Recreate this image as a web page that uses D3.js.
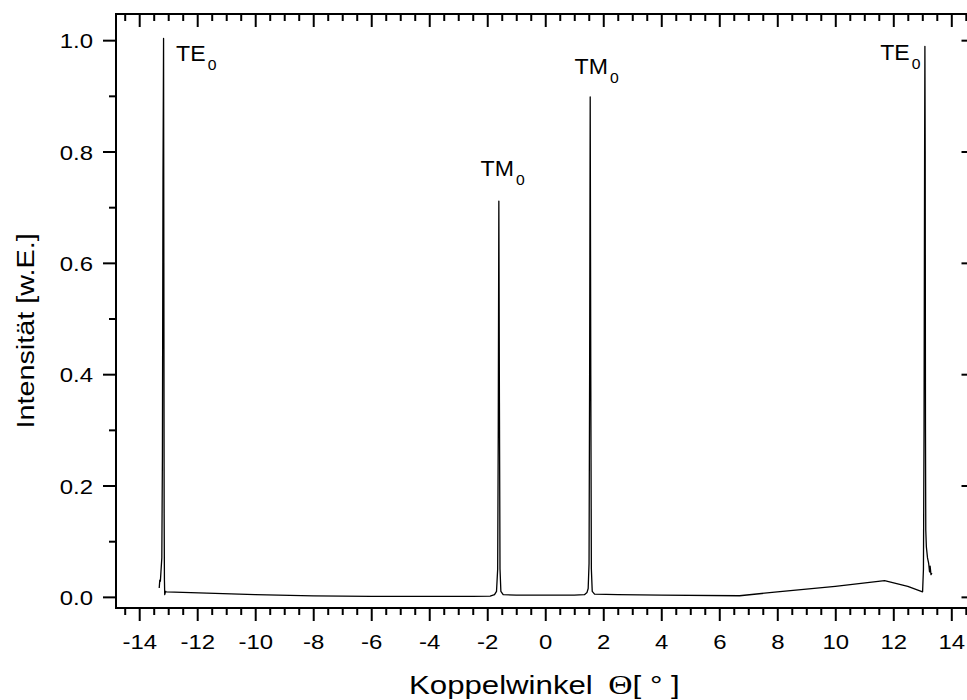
<!DOCTYPE html>
<html>
<head>
<meta charset="utf-8">
<script src="https://cdn.jsdelivr.net/npm/d3@7"></script>
<style>
  html, body { margin: 0; padding: 0; background: #fff; }
  svg { display: block; }
  text { font-family: "Liberation Sans", Arial, Helvetica, sans-serif; fill: #000; }
</style>
</head>
<body>
<svg id="chart" width="967" height="700"></svg>
<script>
// ---- data ----
const angle = [
  -13.31, -13.29, -13.27, -13.25, -13.22, -13.20, -13.18, -13.16, -13.15, -13.14, -13.13, -13.12, -13.09, -13.07,
  -12.5, -10.0, -8.0, -6.0, -4.0, -2.5, -1.9, -1.75, -1.68, -1.64, -1.62, -1.60, -1.58, -1.56, -1.53, -1.45,
  -1.0, 0.0, 1.0, 1.35, 1.44, 1.48, 1.51, 1.53, 1.55, 1.57, 1.59, 1.62, 1.70,
  2.5, 4.0, 6.7, 8.0, 10.0, 11.7, 12.5, 13.01, 13.04, 13.06, 13.08, 13.09, 13.10, 13.11, 13.12,
  13.14, 13.18, 13.22, 13.25, 13.27, 13.30, 13.33
];
const intensity = [
  0.016, 0.030, 0.028, 0.045, 0.070, 0.250, 0.750, 1.003, 0.600, 0.150, 0.030, 0.004, 0.010, 0.009,
  0.008, 0.004, 0.0018, 0.001, 0.001, 0.001, 0.0015, 0.004, 0.010, 0.050, 0.300, 0.711, 0.350, 0.050, 0.010, 0.004,
  0.003, 0.003, 0.003, 0.004, 0.008, 0.015, 0.060, 0.400, 0.898, 0.400, 0.050, 0.010, 0.005,
  0.004, 0.003, 0.002, 0.009, 0.019, 0.029, 0.019, 0.009, 0.050, 0.300, 0.800, 0.989, 0.800, 0.300, 0.120,
  0.090, 0.070, 0.060, 0.045, 0.055, 0.040, 0.043
];

const xTicks = [-14, -12, -10, -8, -6, -4, -2, 0, 2, 4, 6, 8, 10, 12, 14];
const xTickLabels = ["-14", "-12", "-10", "-8", "-6", "-4", "-2", "0", "2", "4", "6", "8", "10", "12", "14"];
const xMinorTicks = d3.range(-29, 30).map(i => i / 2).filter(v => v % 2 !== 0);
const yTicks = [0, 0.2, 0.4, 0.6, 0.8, 1.0];
const yTickLabels = ["0.0", "0.2", "0.4", "0.6", "0.8", "1.0"];
const yMinorTicks = [0.1, 0.3, 0.5, 0.7, 0.9];

const peakNames = ["TE", "TM", "TM", "TE"];
const peakSubs = ["0", "0", "0", "0"];
const peakAngles = [-12.73, -2.23, 1.01, 11.55];
const peakLabelValues = [0.962, 0.756, 0.939, 0.964];

const xTitleWord = "Koppelwinkel";
const xTitleSymbol = "\u0398";
const xTitleUnit = "[ \u00B0 ]";
const yTitle = "Intensit\u00E4t [w.E.]";

// ---- layout ----
const svg = d3.select("#chart");
const L = 116, R = 974.5, T = 14, B = 608;
const x = d3.scaleLinear().domain([-14.8, 14.8]).range([L, R]);
const y = d3.scaleLinear().domain([-0.02, 1.047]).range([B, T]);

const majorLen = 13, minorLen = 7;
const sx = 1.14; // horizontal stretch of the reference's fonts

function styleAxis(g) {
  g.select(".domain").remove();
  g.selectAll(".tick line").attr("stroke", "#000").attr("stroke-width", 2);
}

// bottom (outward)
svg.append("g").attr("transform", `translate(0,${B})`)
  .call(d3.axisBottom(x).tickValues(xMinorTicks).tickSize(minorLen).tickFormat(""))
  .call(styleAxis);
const xb = svg.append("g").attr("transform", `translate(0,${B})`)
  .call(d3.axisBottom(x).tickValues(xTicks).tickSize(majorLen)
    .tickFormat((d, i) => xTickLabels[i]))
  .call(styleAxis);
xb.selectAll(".tick text")
  .attr("y", null).attr("dy", null)
  .attr("font-size", 21)
  .attr("transform", `translate(0,40.5) scale(${sx},1)`);

// top (inward)
svg.append("g").attr("transform", `translate(0,${T})`)
  .call(d3.axisTop(x).tickValues(xMinorTicks).tickSize(-minorLen).tickFormat(""))
  .call(styleAxis);
svg.append("g").attr("transform", `translate(0,${T})`)
  .call(d3.axisTop(x).tickValues(xTicks).tickSize(-majorLen).tickFormat(""))
  .call(styleAxis);

// left (outward)
svg.append("g").attr("transform", `translate(${L},0)`)
  .call(d3.axisLeft(y).tickValues(yMinorTicks).tickSize(minorLen).tickFormat(""))
  .call(styleAxis);
const yl = svg.append("g").attr("transform", `translate(${L},0)`)
  .call(d3.axisLeft(y).tickValues(yTicks).tickSize(majorLen)
    .tickFormat((d, i) => yTickLabels[i]))
  .call(styleAxis);
yl.selectAll(".tick text")
  .attr("x", null).attr("dy", null)
  .attr("font-size", 21)
  .attr("text-anchor", "end")
  .attr("transform", `translate(-23,7.5) scale(${sx},1)`);

// right (inward)
svg.append("g").attr("transform", `translate(${R},0)`)
  .call(d3.axisRight(y).tickValues(yMinorTicks).tickSize(-minorLen).tickFormat(""))
  .call(styleAxis);
svg.append("g").attr("transform", `translate(${R},0)`)
  .call(d3.axisRight(y).tickValues(yTicks).tickSize(-majorLen).tickFormat(""))
  .call(styleAxis);

// frame
svg.append("rect")
  .attr("x", L).attr("y", T).attr("width", R - L).attr("height", B - T)
  .attr("fill", "none").attr("stroke", "#000").attr("stroke-width", 2);

// curve
const pts = angle.map((a, i) => [a, intensity[i]]);
svg.append("path")
  .datum(pts)
  .attr("fill", "none")
  .attr("stroke", "#000")
  .attr("stroke-width", 1.3)
  .attr("stroke-linejoin", "round")
  .attr("d", d3.line().x(d => x(d[0])).y(d => y(d[1])));

// peak labels
peakNames.forEach((name, i) => {
  const t = svg.append("text")
    .attr("font-size", 22)
    .attr("transform", `translate(${x(peakAngles[i])},${y(peakLabelValues[i])}) scale(1.05,1)`);
  t.append("tspan").text(name);
  t.append("tspan").attr("font-size", 15).attr("dx", 2).attr("dy", 9).text(peakSubs[i]);
});

// axis titles
const xt = svg.append("text")
  .attr("font-size", 26)
  .attr("text-anchor", "start")
  .attr("transform", `translate(409,694) scale(1.2,1)`);
xt.append("tspan").text(xTitleWord);
xt.append("tspan").attr("dx", 13).attr("font-family", "'Liberation Serif', 'DejaVu Serif', serif")
  .attr("font-size", 28).text(xTitleSymbol);
xt.append("tspan").attr("dx", 0).text(xTitleUnit.replace(/ /g, "\u00A0"));

svg.append("text")
  .attr("font-size", 24)
  .attr("text-anchor", "middle")
  .attr("transform", `translate(34,331) rotate(-90) scale(1.2,1)`)
  .text(yTitle);
</script>
</body>
</html>
